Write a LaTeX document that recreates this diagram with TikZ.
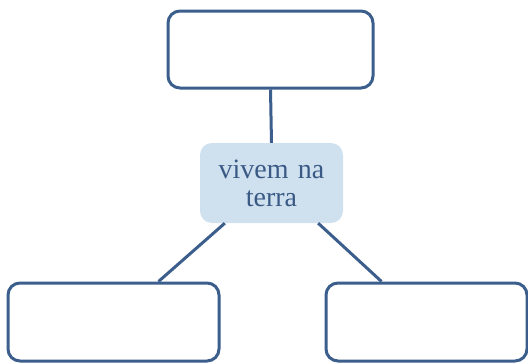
\documentclass[tikz,border=0pt]{standalone}
\usepackage{fontspec}
\setmainfont{Liberation Serif}
\usepackage{tikz}
\usetikzlibrary{positioning}
\definecolor{boxline}{HTML}{3B5E8C}
\definecolor{boxfill}{HTML}{CFE0EF}
\definecolor{boxtext}{HTML}{3A5A85}

\begin{document}
\begin{tikzpicture}[x=1pt,y=-1pt,
  emptybox/.style={draw=boxline, line width=3pt, rounded corners=12pt, fill=white, minimum width=208pt, minimum height=76pt, inner sep=0pt},
  middlebox/.style={fill=boxfill, rounded corners=12pt, minimum width=143pt, minimum height=80pt, inner sep=0pt, text=boxtext, align=center, font=\fontsize{28}{28}\selectfont},
  link/.style={draw=boxline, line width=3pt}]
\useasboundingbox (0,0) rectangle (528,362);

\node [emptybox, minimum width=205pt, minimum height=77pt] (top) at (270.5,49.5) {};
\node [middlebox, text width=143pt] (mid) at (271.5,183) {vivem na\\terra};
\node [emptybox, minimum width=211pt, minimum height=78pt] (left) at (113.5,322) {};
\node [emptybox, minimum width=201pt, minimum height=78pt] (right) at (426.5,322) {};

\draw [link] (top.south) -- (mid.north);
\draw [link] ([xshift=25pt]mid.south west) -- ([xshift=152pt]left.north west);
\draw [link] ([xshift=-25pt]mid.south east) -- ([xshift=57pt]right.north west);
\end{tikzpicture}
\end{document}
